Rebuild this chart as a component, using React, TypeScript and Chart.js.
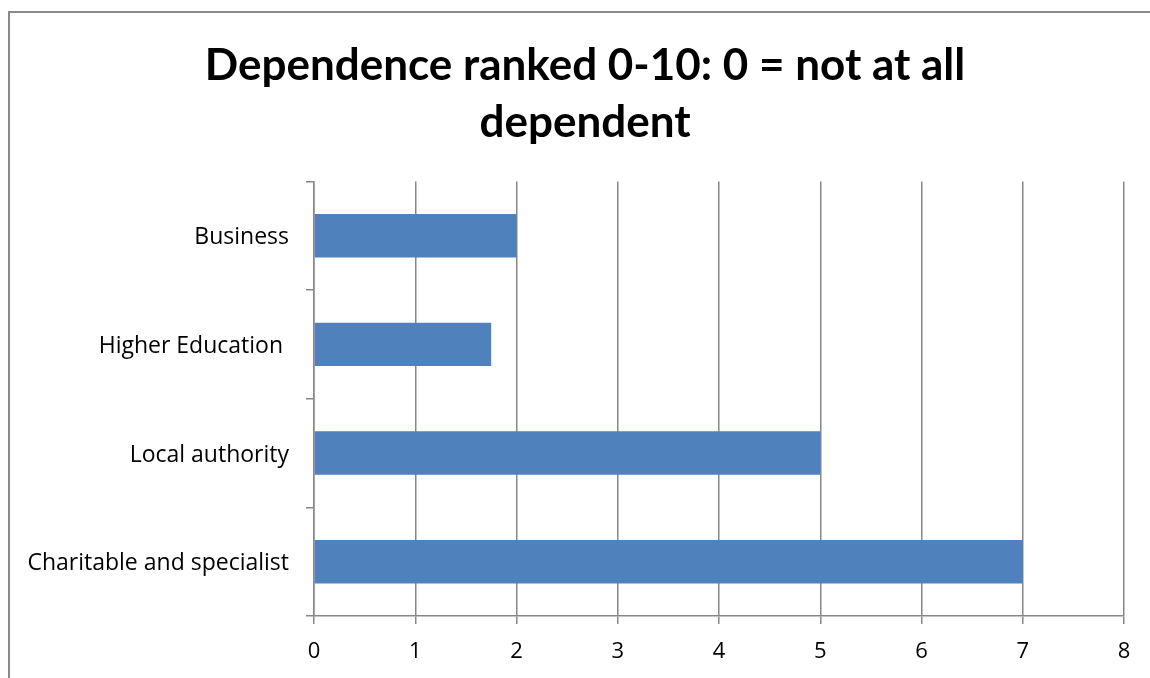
import React, { useEffect, useRef } from "react";
import { Chart, registerables } from "chart.js";

Chart.register(...registerables);

const categories = ["Business", "Higher Education ", "Local authority", "Charitable and specialist"];
const values = [2, 1.75, 5, 7];
const titleLines = ["Dependence ranked 0-10: 0 = not at all", "dependent"];
const xMin = 0;
const xMax = 8;

const TITLE_FONT = "Lato, 'Noto Sans', sans-serif";
const FONT = "'Open Sans', 'Noto Sans', sans-serif";
const GRID = "#878787";

const borderPlugin = {
  id: "outerBorder",
  beforeDraw(chart: any) {
    const ctx = chart.ctx;
    ctx.save();
    ctx.strokeStyle = "#8a8a8a";
    ctx.lineWidth = 2;
    ctx.strokeRect(9, 12, 1400, 1000);
    ctx.restore();
  },
};

// widen the y-axis label clip region so long labels are not cut off
const labelRoomPlugin = {
  id: "labelRoom",
  afterLayout(chart: any) {
    const y = chart.scales.y;
    if (y) y.left = 12;
  },
};

export default function App() {
  const ref = useRef<HTMLCanvasElement | null>(null);
  useEffect(() => {
    if (!ref.current) return;
    const chart = new Chart(ref.current, {
      type: "bar",
      data: {
        labels: categories,
        datasets: [
          {
            data: values,
            backgroundColor: "#4f81bd",
            barPercentage: 0.4,
            categoryPercentage: 1,
          },
        ],
      },
      plugins: [borderPlugin, labelRoomPlugin],
      options: {
        indexAxis: "y",
        animation: false,
        responsive: false,
        maintainAspectRatio: false,
        layout: { padding: { left: 46, right: 26, top: 0, bottom: 0 } },
        plugins: {
          legend: { display: false },
          tooltip: { enabled: false },
          title: {
            display: true,
            text: titleLines,
            color: "#000",
            font: { family: TITLE_FONT, size: 44, weight: "bold", lineHeight: 1.3 },
            padding: { top: 37, bottom: 30 },
          },
        },
        scales: {
          x: {
            min: xMin,
            max: xMax,
            ticks: {
              stepSize: 1,
              color: "#000",
              font: { family: FONT, size: 22 },
              padding: 15,
            },
            grid: {
              color: GRID,
              lineWidth: 1.5,
              tickLength: 8,
              drawTicks: true,
            },
            border: { color: GRID, width: 1.5 },
            afterFit(scale: any) {
              scale.height = 62;
            },
          },
          y: {
            ticks: {
              color: "#000",
              font: { family: FONT, size: 23 },
              padding: 17,
              labelOffset: 2,
            },
            grid: {
              color: GRID,
              lineWidth: 1.5,
              drawOnChartArea: false,
              tickLength: 8,
              offset: true,
            },
            border: { color: GRID, width: 1.5 },
            afterFit(scale: any) {
              scale.width = 268;
            },
          },
        },
      },
    });
    return () => chart.destroy();
  }, []);
  return (
    <div style={{ position: "fixed", left: 0, top: 0, width: 1150, height: 678, background: "#fff" }}>
      <canvas ref={ref} width={1150} height={678} style={{ display: "block", width: 1150, height: 678 }} />
    </div>
  );
}
